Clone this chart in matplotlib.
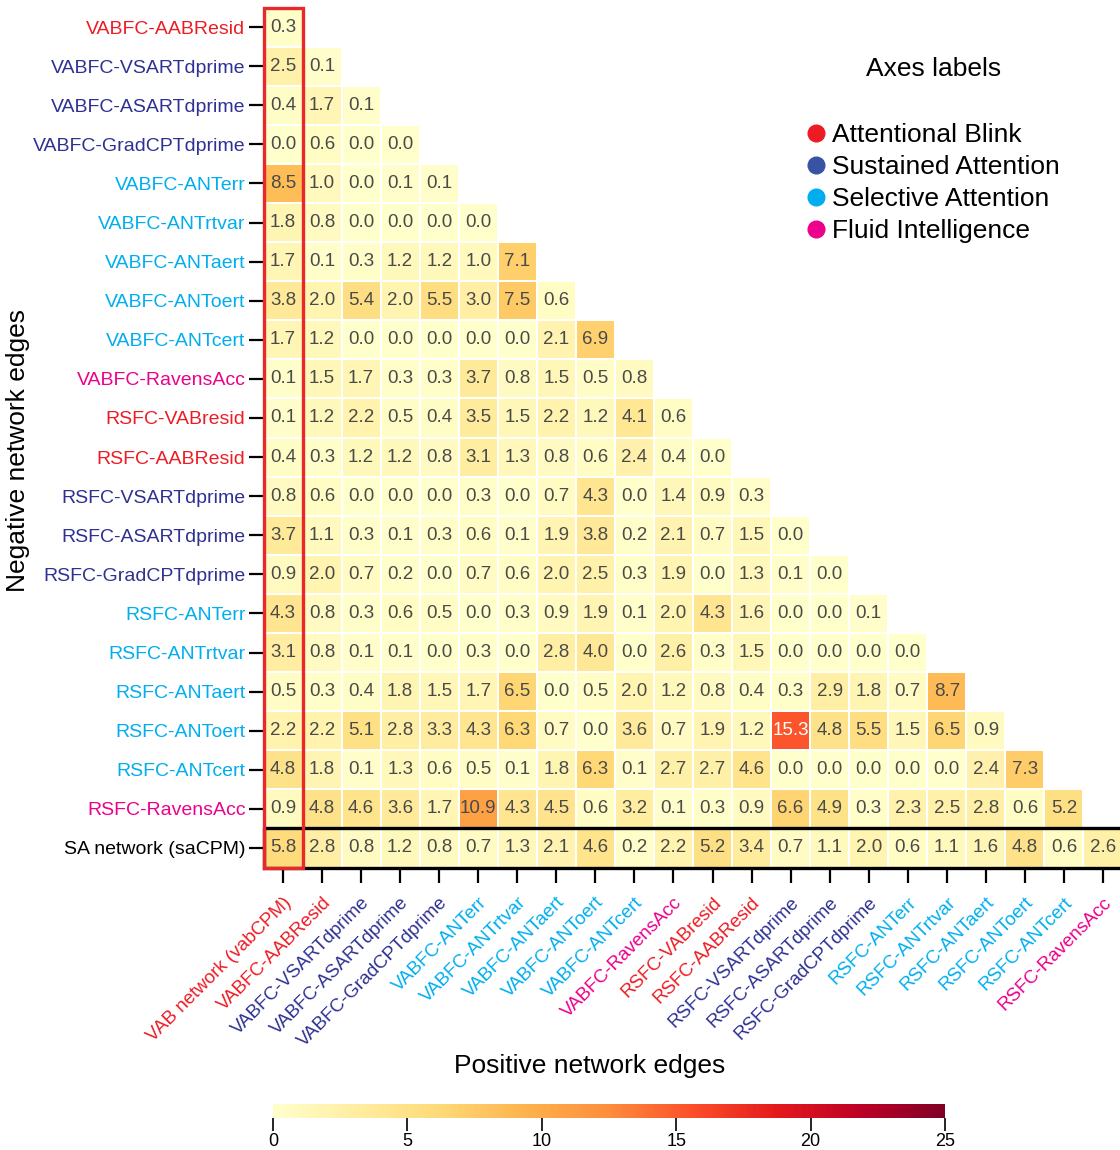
import numpy as np
import matplotlib
matplotlib.use('Agg')
import matplotlib.pyplot as plt
from matplotlib.patches import Rectangle
from matplotlib.lines import Line2D

plt.rcParams['font.family'] = ['Liberation Sans', 'DejaVu Sans']

# colours used for the measure groups
RED = "#ed1c24"
NAVY = "#2e3192"
CYAN = "#00aeef"
MAGENTA = "#ec008c"

# rows: negative network edges (top to bottom)
row_labels = ["VABFC-AABResid", "VABFC-VSARTdprime", "VABFC-ASARTdprime", "VABFC-GradCPTdprime",
              "VABFC-ANTerr", "VABFC-ANTrtvar", "VABFC-ANTaert", "VABFC-ANToert", "VABFC-ANTcert",
              "VABFC-RavensAcc", "RSFC-VABresid", "RSFC-AABResid", "RSFC-VSARTdprime",
              "RSFC-ASARTdprime", "RSFC-GradCPTdprime", "RSFC-ANTerr", "RSFC-ANTrtvar",
              "RSFC-ANTaert", "RSFC-ANToert", "RSFC-ANTcert", "RSFC-RavensAcc", "SA network (saCPM)"]
row_colors = [RED, NAVY, NAVY, NAVY, CYAN, CYAN, CYAN, CYAN, CYAN, MAGENTA, RED, RED,
              NAVY, NAVY, NAVY, CYAN, CYAN, CYAN, CYAN, CYAN, MAGENTA, "black"]

# columns: positive network edges (left to right)
col_labels = ["VAB network (vabCPM)", "VABFC-AABResid", "VABFC-VSARTdprime", "VABFC-ASARTdprime",
              "VABFC-GradCPTdprime", "VABFC-ANTerr", "VABFC-ANTrtvar", "VABFC-ANTaert",
              "VABFC-ANToert", "VABFC-ANTcert", "VABFC-RavensAcc", "RSFC-VABresid", "RSFC-AABResid",
              "RSFC-VSARTdprime", "RSFC-ASARTdprime", "RSFC-GradCPTdprime", "RSFC-ANTerr",
              "RSFC-ANTrtvar", "RSFC-ANTaert", "RSFC-ANToert", "RSFC-ANTcert", "RSFC-RavensAcc"]
col_colors = [RED, RED, NAVY, NAVY, NAVY, CYAN, CYAN, CYAN, CYAN, CYAN, MAGENTA, RED, RED,
              NAVY, NAVY, NAVY, CYAN, CYAN, CYAN, CYAN, CYAN, MAGENTA]

# lower-triangle values, one list per row
vals = [
    [0.3],
    [2.5, 0.1],
    [0.4, 1.7, 0.1],
    [0.0, 0.6, 0.0, 0.0],
    [8.5, 1.0, 0.0, 0.1, 0.1],
    [1.8, 0.8, 0.0, 0.0, 0.0, 0.0],
    [1.7, 0.1, 0.3, 1.2, 1.2, 1.0, 7.1],
    [3.8, 2.0, 5.4, 2.0, 5.5, 3.0, 7.5, 0.6],
    [1.7, 1.2, 0.0, 0.0, 0.0, 0.0, 0.0, 2.1, 6.9],
    [0.1, 1.5, 1.7, 0.3, 0.3, 3.7, 0.8, 1.5, 0.5, 0.8],
    [0.1, 1.2, 2.2, 0.5, 0.4, 3.5, 1.5, 2.2, 1.2, 4.1, 0.6],
    [0.4, 0.3, 1.2, 1.2, 0.8, 3.1, 1.3, 0.8, 0.6, 2.4, 0.4, 0.0],
    [0.8, 0.6, 0.0, 0.0, 0.0, 0.3, 0.0, 0.7, 4.3, 0.0, 1.4, 0.9, 0.3],
    [3.7, 1.1, 0.3, 0.1, 0.3, 0.6, 0.1, 1.9, 3.8, 0.2, 2.1, 0.7, 1.5, 0.0],
    [0.9, 2.0, 0.7, 0.2, 0.0, 0.7, 0.6, 2.0, 2.5, 0.3, 1.9, 0.0, 1.3, 0.1, 0.0],
    [4.3, 0.8, 0.3, 0.6, 0.5, 0.0, 0.3, 0.9, 1.9, 0.1, 2.0, 4.3, 1.6, 0.0, 0.0, 0.1],
    [3.1, 0.8, 0.1, 0.1, 0.0, 0.3, 0.0, 2.8, 4.0, 0.0, 2.6, 0.3, 1.5, 0.0, 0.0, 0.0, 0.0],
    [0.5, 0.3, 0.4, 1.8, 1.5, 1.7, 6.5, 0.0, 0.5, 2.0, 1.2, 0.8, 0.4, 0.3, 2.9, 1.8, 0.7, 8.7],
    [2.2, 2.2, 5.1, 2.8, 3.3, 4.3, 6.3, 0.7, 0.0, 3.6, 0.7, 1.9, 1.2, 15.3, 4.8, 5.5, 1.5, 6.5, 0.9],
    [4.8, 1.8, 0.1, 1.3, 0.6, 0.5, 0.1, 1.8, 6.3, 0.1, 2.7, 2.7, 4.6, 0.0, 0.0, 0.0, 0.0, 0.0, 2.4, 7.3],
    [0.9, 4.8, 4.6, 3.6, 1.7, 10.9, 4.3, 4.5, 0.6, 3.2, 0.1, 0.3, 0.9, 6.6, 4.9, 0.3, 2.3, 2.5, 2.8, 0.6, 5.2],
    [5.8, 2.8, 0.8, 1.2, 0.8, 0.7, 1.3, 2.1, 4.6, 0.2, 2.2, 5.2, 3.4, 0.7, 1.1, 2.0, 0.6, 1.1, 1.6, 4.8, 0.6, 2.6],
]

legend_names = ["Attentional Blink", "Sustained Attention", "Selective Attention", "Fluid Intelligence"]
legend_colors = [RED, "#3953a4", CYAN, MAGENTA]

n_rows = len(row_labels)
n_cols = len(col_labels)
mat = np.full((n_rows, n_cols), np.nan)
for i, r in enumerate(vals):
    mat[i, :len(r)] = r
mat = np.ma.masked_invalid(mat)

W, H = 1120, 1150
fig = plt.figure(figsize=(W / 100, H / 100), dpi=100)
ax = fig.add_axes([263.5 / W, 1 - 867.5 / H, 859 / W, 860 / H])

cmap = plt.get_cmap('YlOrRd')
mesh = ax.pcolormesh(np.arange(n_cols + 1), np.arange(n_rows + 1), mat, cmap=cmap,
                     vmin=0, vmax=25, edgecolors='white', linewidth=1.3)
ax.set_xlim(0, n_cols)
ax.set_ylim(n_rows, 0)

for i in range(n_rows):
    for j in range(n_cols):
        v = mat[i, j]
        if np.ma.is_masked(v):
            continue
        ax.text(j + 0.5, i + 0.5, f"{v:.1f}", ha='center', va='center', fontsize=13.5,
                color='white' if v > 12 else '#4a4a4a')

for s in ax.spines.values():
    s.set_visible(False)

ax.set_yticks(np.arange(n_rows) + 0.5)
ax.set_yticklabels(row_labels, fontsize=14)
for lab, c in zip(ax.get_yticklabels(), row_colors):
    lab.set_color(c)
ax.set_xticks(np.arange(n_cols) + 0.5)
ax.set_xticklabels(col_labels, fontsize=13.5, rotation=45, ha='right', rotation_mode='anchor')
for lab, c in zip(ax.get_xticklabels(), col_colors):
    lab.set_color(c)
ax.tick_params(axis='y', length=11, width=1.6, pad=2)
ax.tick_params(axis='x', length=11, width=1.6, pad=8)

# highlight boxes: SA network row and VAB network column
ax.add_patch(Rectangle((0, n_rows - 1), n_cols + 1, 1, fill=False, edgecolor='black',
                       lw=2.4, clip_on=False, zorder=5))
ax.add_patch(Rectangle((0, 0), 1, n_rows, fill=False, edgecolor='#e8282b',
                       lw=2.4, clip_on=False, zorder=6))

fig.text(590 / W, 1 - 1066 / H, "Positive network edges", ha='center', va='center', fontsize=19)
fig.text(18 / W, 1 - 450 / H, "Negative network edges", ha='center', va='center',
         fontsize=19, rotation=90)

# group legend
fig.text(934 / W, 1 - 69 / H, "Axes labels", ha='center', va='center', fontsize=19)
handles = [Line2D([], [], marker='o', linestyle='', color=c, markersize=12) for c in legend_colors]
fig.legend(handles, legend_names, loc='upper left', bbox_to_anchor=(803 / W, 1 - 123 / H),
           frameon=False, fontsize=19, handletextpad=0.1, labelspacing=0.3,
           borderaxespad=0, borderpad=0, handlelength=1.0)

# colour bar
cax = fig.add_axes([273 / W, 1 - 1118 / H, 672 / W, 14 / H])
cbar = fig.colorbar(mesh, cax=cax, orientation='horizontal')
cbar.outline.set_visible(False)
cbar.set_ticks([0, 5, 10, 15, 20, 25])
cax.tick_params(length=9, width=1.2, labelsize=13, pad=2)

fig.savefig("out.png", dpi=100)
